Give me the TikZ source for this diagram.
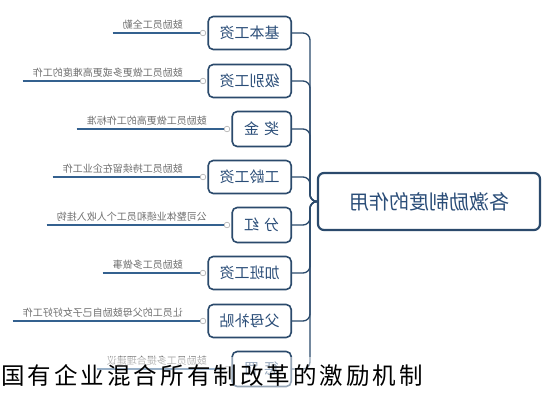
\documentclass[tikz,border=0pt]{standalone}
\usepackage{fontspec}
\usepackage{graphicx}
\newfontfamily\cjk{Noto Sans CJK SC}
\newfontfamily\capfont[LetterSpace=13]{Noto Sans CJK SC}
\definecolor{navy}{HTML}{2B4A6C}
\definecolor{textblue}{HTML}{2A4D78}
\definecolor{lineblue}{HTML}{34618F}
\definecolor{leafgray}{HTML}{707070}
\tikzset{
  rootbox/.style={draw=navy, line width=2.2pt, rounded corners=6pt, fill=white,
    minimum width=222pt, minimum height=57pt, inner sep=0pt,
    font=\cjk\fontsize{20}{24}\selectfont, text=textblue},
  childbox/.style={draw=navy, line width=1.6pt, rounded corners=5pt, fill=white,
    minimum height=33pt, inner sep=0pt, anchor=east,
    font=\cjk\fontsize{15}{18}\selectfont, text=textblue},
  widebox/.style={childbox, minimum width=83pt},
  narrowbox/.style={childbox, minimum width=59pt, minimum height=35pt},
  leaftext/.style={font=\cjk\fontsize{10}{12}\selectfont, text=leafgray,
    anchor=south east, inner sep=0pt},
  knob/.style={circle, draw=gray!55, fill=white, minimum size=5.5pt, inner sep=0pt, line width=0.6pt},
  branch/.style={draw=navy, line width=1.3pt, rounded corners=7pt},
  leafline/.style={draw=lineblue, line width=1.4pt}
}
\begin{document}
\begin{tikzpicture}[x=1pt,y=-1pt]
\useasboundingbox (0,0) rectangle (552,400);
\fill[white] (0,0) rectangle (552,400);

% root
\node[rootbox] (root) at (429,201.5) {\reflectbox{各激励制度的作用}};

% children
\node[widebox]   (c1) at (292,33)  {\reflectbox{基本工资}};
\node[widebox]   (c2) at (292,81)  {\reflectbox{级别工资}};
\node[narrowbox] (c3) at (292,129) {\reflectbox{奖\hspace{5pt}金}};
\node[widebox]   (c4) at (292,177) {\reflectbox{工龄工资}};
\node[narrowbox] (c5) at (292,225) {\reflectbox{分\hspace{5pt}红}};
\node[widebox]   (c6) at (292,273) {\reflectbox{加班工资}};
\node[widebox]   (c7) at (292,321) {\reflectbox{父母补贴}};
\node[narrowbox] (c8) at (292,369) {\reflectbox{惩\hspace{5pt}罚}};

% branches
\foreach \c in {c1,c2,c3,c4,c5,c6,c7,c8}{
  \draw[branch] (root.west) -- (310,201.5) |- (\c.east);
}

% knobs
\node[knob] (k1) at (203,33) {};
\node[knob] (k2) at (203,81) {};
\node[knob] (k3) at (227,129) {};
\node[knob] (k4) at (203,177) {};
\node[knob] (k5) at (227,225) {};
\node[knob] (k6) at (203,273) {};
\node[knob] (k7) at (203,321) {};
\node[knob] (k8) at (227,369) {};

% leaf texts
\node[leaftext] (l1) at (183,30)  {\reflectbox{鼓励员工全勤}};
\node[leaftext] (l2) at (183,78)  {\reflectbox{鼓励员工做更多或更高难度的工作}};
\node[leaftext] (l3) at (207,126) {\reflectbox{鼓励员工做更高的工作标准}};
\node[leaftext] (l4) at (183,174) {\reflectbox{鼓励员工持续留在企业工作}};
\node[leaftext] (l5) at (207,222) {\reflectbox{公司整体业绩和员工个人收入挂钩}};
\node[leaftext] (l6) at (183,270) {\reflectbox{鼓励员工多做事}};
\node[leaftext] (l7) at (183,318) {\reflectbox{让员工的父母鼓励自己子女好好工作}};
\node[leaftext] (l8) at (207,366) {\reflectbox{鼓励员工多提合理建议}};

% leaf lines
\foreach \i in {1,...,8}{
  \coordinate (t\i) at ([xshift=-10pt]l\i.south west);
  \coordinate (s\i) at (t\i |- k\i);
  \draw[leafline] (s\i) -- (k\i.west);
}
\foreach \i in {1,...,8}{
  \node[knob] at (k\i) {};
}

% fading band and caption
\fill[white, opacity=0.5] (0,357) rectangle (552,400);
\node[anchor=base west, inner sep=0pt, font=\capfont\fontsize{23.5}{26}\selectfont, text=black] (cap) at (1,384) {国有企业混合所有制改革的激励机制};
\end{tikzpicture}
\end{document}
